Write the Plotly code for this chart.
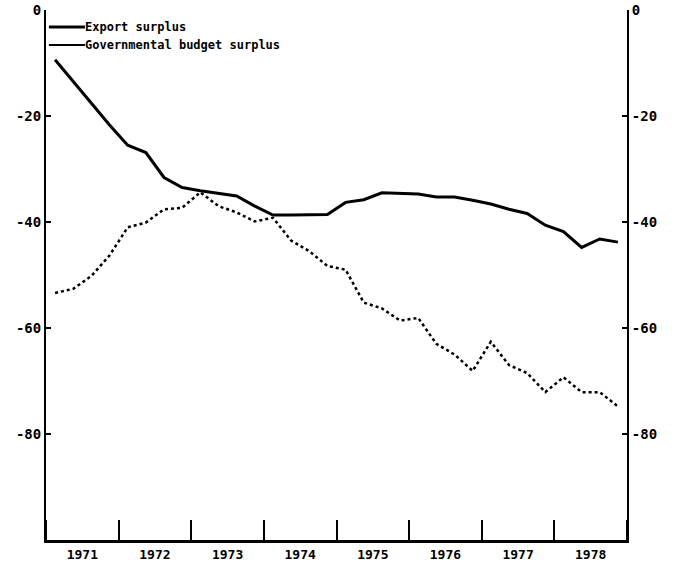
import plotly.graph_objects as go

# Quarterly observations, 1971Q1 - 1978Q4
years = [y for y in range(1971, 1979) for _ in range(4)]
quarters = [q for _ in range(1971, 1979) for q in range(1, 5)]

export_surplus = [
    -9.4, -13.5, -17.5, -21.7, -25.5, -26.9, -31.6, -33.5,
    -34.1, -34.6, -35.1, -37.0, -38.7, -38.7, -38.7, -38.6,
    -36.3, -35.8, -34.5, -34.6, -34.7, -35.3, -35.3, -35.9,
    -36.6, -37.6, -38.4, -40.6, -41.8, -44.8, -43.2, -43.8,
]
budget_surplus = [
    -53.4, -52.6, -50.2, -46.3, -41.0, -40.1, -37.6, -37.3,
    -34.4, -37.0, -38.2, -39.9, -39.2, -43.5, -45.5, -48.3,
    -49.0, -55.2, -56.3, -58.6, -58.1, -63.0, -65.0, -68.1,
    -62.6, -67.0, -68.5, -72.1, -69.3, -72.1, -72.1, -74.8,
]

year_labels = ["1971", "1972", "1973", "1974", "1975", "1976", "1977", "1978"]
y_ticks = [0, -20, -40, -60, -80]
legend_labels = ["Export surplus", "Governmental budget surplus"]

x = [y + (q - 0.5) / 4 for y, q in zip(years, quarters)]

fig = go.Figure()
fig.add_trace(go.Scatter(x=x, y=export_surplus, mode="lines",
                         line=dict(color="black", width=3), name=legend_labels[0],
                         showlegend=False))
fig.add_trace(go.Scatter(x=x, y=budget_surplus, mode="lines",
                         line=dict(color="black", width=2.5, dash="dot"),
                         name=legend_labels[1], showlegend=False))
# invisible trace to activate right axis
fig.add_trace(go.Scatter(x=x[:1], y=export_surplus[:1], yaxis="y2", mode="lines",
                         line=dict(width=0), showlegend=False, hoverinfo="skip"))

tickfont = dict(family="DejaVu Sans Mono", size=14, color="black", weight="bold")
xtickfont = dict(family="DejaVu Sans Mono", size=13, color="black", weight="bold")

fig.update_layout(
    width=675, height=570,
    margin=dict(l=46, r=48, t=10, b=30),
    paper_bgcolor="white", plot_bgcolor="white",
    xaxis=dict(
        range=[1971, 1979],
        tickvals=[int(v) + 0.5 for v in year_labels],
        ticktext=year_labels,
        ticks="", showgrid=False, zeroline=False, automargin=False,
        showline=True, linecolor="black", linewidth=3,
        tickfont=xtickfont,
        minor=dict(tick0=1972, dtick=1, ticks="inside", ticklen=20,
                   tickwidth=2, tickcolor="black", showgrid=False),
    ),
    yaxis=dict(
        range=[-100, 0], tickvals=y_ticks, ticktext=[str(v) for v in y_ticks],
        ticks="inside", ticklen=5, tickwidth=2, tickcolor="black",
        showgrid=False, zeroline=False, automargin=False,
        showline=True, linecolor="black", linewidth=2,
        tickfont=tickfont,
    ),
    yaxis2=dict(
        range=[-100, 0], tickvals=y_ticks, ticktext=[str(v) for v in y_ticks],
        overlaying="y", side="right",
        ticks="inside", ticklen=5, tickwidth=2, tickcolor="black",
        showgrid=False, zeroline=False, automargin=False,
        showline=True, linecolor="black", linewidth=2,
        tickfont=tickfont,
    ),
)

# legend drawn as line samples + text (reference shows solid samples)
legend_font = dict(family="DejaVu Sans Mono", size=12, color="black", weight="bold")
for label, ly, lw in [(legend_labels[0], 0.968, 3), (legend_labels[1], 0.934, 1.8)]:
    fig.add_shape(type="line", xref="paper", yref="paper",
                  x0=0.005, x1=0.067, y0=ly, y1=ly,
                  line=dict(color="black", width=lw))
    fig.add_annotation(xref="paper", yref="paper", x=0.067, y=ly,
                       text=label, showarrow=False, xanchor="left",
                       yanchor="middle", font=legend_font, xshift=-2)

fig.write_html("out.html", config={"displayModeBar": False},
               post_script="document.body.style.margin='0';")
